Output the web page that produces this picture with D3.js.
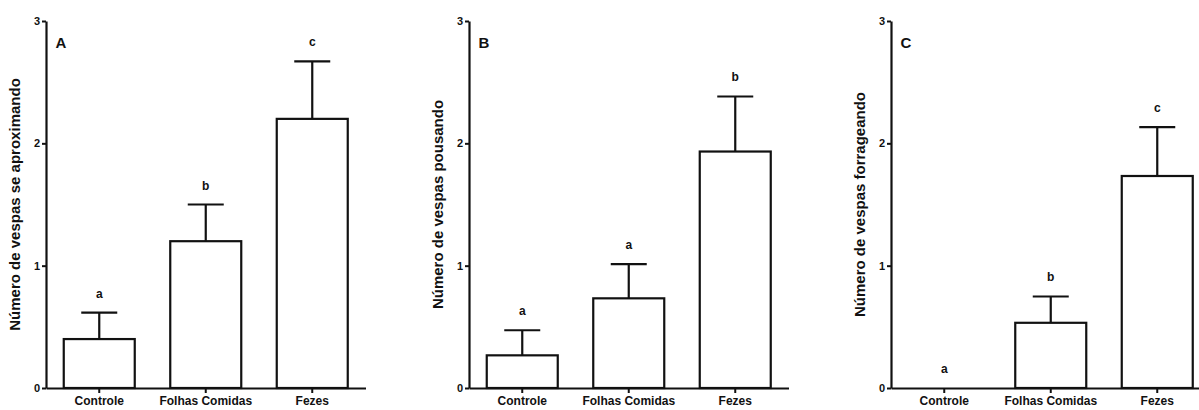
<!DOCTYPE html>
<html>
<head>
<meta charset="utf-8">
<script src="https://cdn.jsdelivr.net/npm/d3@7"></script>
<style>
  body { margin: 0; background: #fff; }
  svg text { font-family: "Liberation Sans", Arial, sans-serif; font-weight: bold; fill: #111; }
</style>
</head>
<body>
<div id="chart"></div>
<script>
// categories shared by the three panels
let categories = ["Controle", "Folhas Comidas", "Fezes"];

// panel A - approaching
let meansA = [0.40, 1.20, 2.20];
let errA = [0.216, 0.30, 0.47];
let lettersA = ["a", "b", "c"];

// panel B - landing
let meansB = [0.267, 0.733, 1.933];
let errB = [0.205, 0.28, 0.45];
let lettersB = ["a", "a", "b"];

// panel C - foraging
let meansC = [0, 0.533, 1.733];
let errC = [0, 0.215, 0.40];
let lettersC = ["a", "b", "c"];

let panelLabels = ["A", "B", "C"];
let yTitles = ["Número de vespas se aproximando", "Número de vespas pousando", "Número de vespas forrageando"];
let yTicks = [0, 1, 2, 3];

let width = 1199, height = 410;
let axisX = [46, 469, 891];
let plotTop = 21, plotBottom = 388, plotWidth = 319.5;

let svg = d3.select("#chart").append("svg")
	.attr("width", width)
	.attr("height", height);

let panels = [
	{ means: meansA, errs: errA, letters: lettersA },
	{ means: meansB, errs: errB, letters: lettersB },
	{ means: meansC, errs: errC, letters: lettersC }
];

let y = d3.scaleLinear().domain([0, 3]).range([plotBottom, plotTop]);
let x = d3.scaleBand().domain(categories).range([0, plotWidth])
	.paddingInner(1/3).paddingOuter(1/6);

panels.forEach((p, i) => {
	let g = svg.append("g").attr("transform", "translate(" + axisX[i] + ",0)");
	let rows = categories.map((c, j) => ({ cat: c, m: p.means[j], e: p.errs[j], l: p.letters[j] }));

	// bars
	g.selectAll(".bar")
		.data(rows.filter(d => d.m > 0))
		.enter()
		.append("rect")
		.attr("class", "bar")
		.attr("x", d => x(d.cat))
		.attr("y", d => y(d.m))
		.attr("width", x.bandwidth())
		.attr("height", d => y(0) - y(d.m))
		.attr("fill", "white")
		.attr("stroke", "#111")
		.attr("stroke-width", 2.2);

	// error bars (upper only)
	let eb = g.selectAll(".err")
		.data(rows.filter(d => d.e > 0))
		.enter()
		.append("g")
		.attr("class", "err");
	eb.append("line")
		.attr("x1", d => x(d.cat) + x.bandwidth() / 2)
		.attr("x2", d => x(d.cat) + x.bandwidth() / 2)
		.attr("y1", d => y(d.m))
		.attr("y2", d => y(d.m + d.e))
		.attr("stroke", "#111")
		.attr("stroke-width", 2.2);
	eb.append("line")
		.attr("x1", d => x(d.cat) + x.bandwidth() / 2 - 18)
		.attr("x2", d => x(d.cat) + x.bandwidth() / 2 + 18)
		.attr("y1", d => y(d.m + d.e))
		.attr("y2", d => y(d.m + d.e))
		.attr("stroke", "#111")
		.attr("stroke-width", 2.2);

	// significance letters
	g.selectAll(".sig")
		.data(rows)
		.enter()
		.append("text")
		.attr("class", "sig")
		.attr("x", d => x(d.cat) + x.bandwidth() / 2)
		.attr("y", d => y(d.m + d.e) - 15)
		.attr("text-anchor", "middle")
		.attr("font-size", 12)
		.text(d => d.l);

	// axes
	let yAxis = g.append("g")
		.call(d3.axisLeft(y).tickValues(yTicks).tickFormat(d3.format("d")).tickSize(4).tickSizeOuter(0).tickPadding(2));
	let xAxis = g.append("g")
		.attr("transform", "translate(0," + plotBottom + ")")
		.call(d3.axisBottom(x).tickSize(5).tickSizeOuter(0).tickPadding(3));

	[yAxis, xAxis].forEach(a => {
		a.select(".domain").attr("stroke", "#111").attr("stroke-width", 2.2);
		a.selectAll(".tick line").attr("stroke", "#111").attr("stroke-width", 2);
		a.selectAll(".tick text")
			.attr("fill", "#111")
			.style("font-family", '"Liberation Sans", Arial, sans-serif')
			.style("font-weight", "bold");
	});
	yAxis.selectAll(".tick text").attr("font-size", 11);
	xAxis.selectAll(".tick text").attr("font-size", 12);

	// panel letter
	g.append("text")
		.attr("x", 15)
		.attr("y", 48)
		.attr("text-anchor", "middle")
		.attr("font-size", 15)
		.text(panelLabels[i]);

	// y title
	g.append("text")
		.attr("transform", "translate(-31," + ((plotTop + plotBottom) / 2) + ") rotate(-90)")
		.attr("text-anchor", "middle")
		.attr("dy", "0.35em")
		.attr("font-size", 15)
		.text(yTitles[i]);
});
</script>
</body>
</html>
